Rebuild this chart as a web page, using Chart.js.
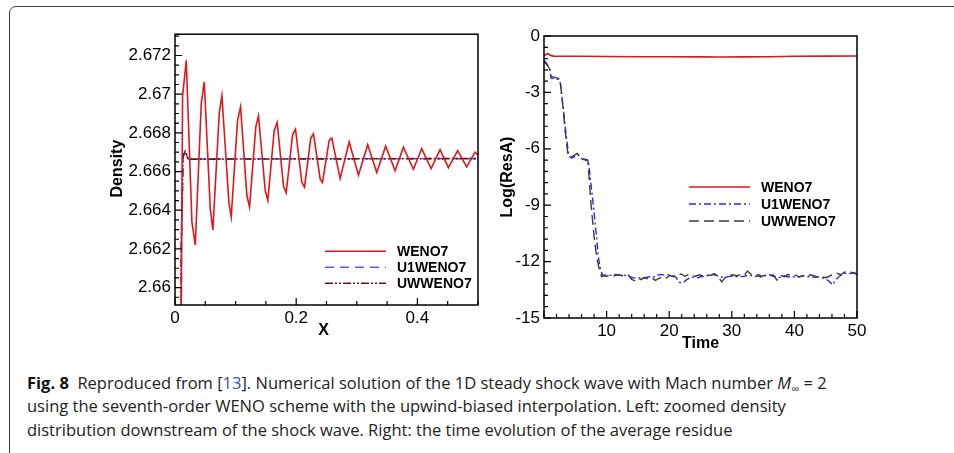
<!DOCTYPE html>
<html lang="en">
<head>
<meta charset="UTF-8" />
<title>Fig. 8</title>
<script src="https://cdn.jsdelivr.net/npm/chart.js"></script>
<style>
  body { margin: 0; width: 954px; height: 453px; background: #fff; position: relative; overflow: hidden; }
  .frame { position: absolute; left: 9px; top: 6px; width: 990px; height: 500px; border: 1.5px solid #3a3a3a; border-radius: 7px; }
  #densChart { position: absolute; left: 100px; top: 20px; }
  #resChart { position: absolute; left: 490px; top: 20px; }
  .caption { position: absolute; left: 27px; top: 371px; font-family: "Open Sans", sans-serif; font-size: 16.5px; line-height: 23.3px; color: #222; white-space: nowrap; }
  .caption b { color: #111; }
  .caption .ref { color: #2f55b5; }
  .caption sub { font-size: 70%; line-height: 0; }
</style>
</head>
<body>
<div class="frame"></div>
<canvas id="densChart" width="390" height="330"></canvas>
<canvas id="resChart" width="390" height="340"></canvas>
<div class="caption">
  <b>Fig. 8</b>&nbsp; Reproduced from [<span class="ref">13</span>]. Numerical solution of the 1D steady shock wave with Mach number <i>M</i><sub>∞</sub> = 2<br>
  using the seventh-order WENO scheme with the upwind-biased interpolation. Left: zoomed density<br>
  distribution downstream of the shock wave. Right: the time evolution of the average residue
</div>
<script>
// ---- left panel: density vs x ----
const seriesNames = ['WENO7', 'U1WENO7', 'UWWENO7'];

const wenoX = [0.006, 0.0095, 0.0125, 0.0186, 0.0279, 0.0335, 0.0433, 0.0483, 0.0582, 0.0625,
  0.0731, 0.0774, 0.0889, 0.0928, 0.1032, 0.1082, 0.1186, 0.123, 0.1334, 0.1378,
  0.1489, 0.1532, 0.1637, 0.1686, 0.1791, 0.1835, 0.194, 0.1989, 0.2093, 0.2137,
  0.2241, 0.2285, 0.2396, 0.2434, 0.2544, 0.2587, 0.2725, 0.2874, 0.3027, 0.318,
  0.3329, 0.3477, 0.3632, 0.3769, 0.3934, 0.4071, 0.4226, 0.4374, 0.4511, 0.4665,
  0.4813, 0.4951, 0.5];
const wenoRho = [1.0, 2.655, 2.6699, 2.67175, 2.6634, 2.6622, 2.6695, 2.67064, 2.66408, 2.66298,
  2.66905, 2.66993, 2.66442, 2.66366, 2.66863, 2.66934, 2.66476, 2.66417, 2.66832, 2.66888,
  2.66502, 2.66451, 2.66812, 2.66853, 2.66524, 2.6649, 2.6679, 2.66819, 2.66544, 2.66519,
  2.66773, 2.66795, 2.66561, 2.66544, 2.66761, 2.66773, 2.66564, 2.66753, 2.66581, 2.66739,
  2.66595, 2.66731, 2.66604, 2.66726, 2.66612, 2.66718, 2.66615, 2.66713, 2.6662, 2.66708,
  2.66624, 2.667, 2.66685];
const u1X = [0.006, 0.0105, 0.0135, 0.0165, 0.0215, 0.5];
const u1Rho = [1.0, 2.662, 2.6667, 2.6671, 2.66665, 2.66667];
const uwX = [0.006, 0.0102, 0.0132, 0.0168, 0.0218, 0.5];
const uwRho = [1.0, 2.662, 2.6668, 2.66705, 2.66664, 2.66667];

const densXTicks = [0, 0.2, 0.4];
const densYTicks = [2.66, 2.662, 2.664, 2.666, 2.668, 2.67, 2.672];

// ---- right panel: log residual vs time ----
const wenoT = [0, 0.3, 0.6, 1.0, 1.5, 3, 6, 10, 15, 20, 25, 28, 32, 36, 40, 45, 50];
const wenoRes = [-1.05, -0.98, -0.93, -1.02, -1.07, -1.08, -1.08, -1.09, -1.1, -1.1, -1.11, -1.12, -1.11, -1.1, -1.08, -1.07, -1.06];

const u1T = [0.05, 0.5, 0.95, 1.15, 1.8, 2.3, 2.6, 3.1, 3.55, 3.95, 4.4, 5.0, 5.4, 6.1, 7.1, 7.4, 7.85, 8.4, 8.65, 9.0, 9.35,
  9.6, 10.2, 10.8, 11.4, 12.0, 12.6, 13.2, 13.8, 14.4, 15.0, 15.6, 16.2, 16.8, 17.4, 18.0, 18.6, 19.2, 19.8, 20.4, 21.0,
  21.6, 22.2, 22.8, 23.4, 24.0, 24.6, 25.2, 25.8, 26.4, 27.0, 27.6, 28.2, 28.8, 29.4, 30.0, 30.6, 31.2, 31.8, 32.4, 33.0,
  33.6, 34.2, 34.8, 35.4, 36.0, 36.6, 37.2, 37.8, 38.4, 39.0, 39.6, 40.2, 40.8, 41.4, 42.0, 42.6, 43.2, 43.8, 44.4, 45.0,
  45.6, 46.1, 46.6, 47.2, 47.8, 48.4, 49.0, 49.6, 50.0];
const u1Res = [-1.3, -1.5, -1.8, -2.25, -2.28, -2.3, -2.5, -3.9, -5.3, -6.35, -6.5, -6.4, -6.3, -6.55, -6.65, -7.6, -8.9, -10.7, -11.7, -12.4, -12.7,
  -12.72, -12.7, -12.74, -12.68, -12.72, -12.7, -12.76, -12.82, -12.88, -12.84, -12.9, -12.86, -12.8, -12.84, -12.74, -12.68, -12.72, -12.7, -12.74, -12.8,
  -13.1, -13.14, -12.96, -12.84, -12.82, -12.86, -12.78, -12.8, -12.72, -12.68, -12.74, -12.8, -12.86, -12.8, -12.78, -12.82, -12.76, -12.8, -12.74, -12.72,
  -12.8, -12.76, -12.84, -12.74, -12.7, -12.78, -12.8, -12.86, -12.76, -12.82, -12.78, -12.84, -12.8, -12.76, -12.82, -12.78, -12.84, -12.8, -12.86, -12.92,
  -13.06, -13.24, -12.96, -12.78, -12.66, -12.6, -12.64, -12.58, -12.7];

const uwT = [0.1, 0.5, 0.9, 1.1, 1.7, 2.3, 2.6, 3.0, 3.4, 3.8, 4.3, 4.8, 5.3, 6.0, 7.0, 7.5, 8.0, 8.4, 8.85, 9.2,
  9.4, 10.0, 10.6, 11.2, 11.8, 12.4, 13.0, 13.5, 14.0, 14.5, 15.0, 15.5, 16.0, 16.6, 17.2, 17.8, 18.3, 18.9, 19.5, 20.1,
  20.7, 21.3, 21.9, 22.5, 23.0, 23.6, 24.2, 24.8, 25.4, 26.0, 26.6, 27.2, 27.8, 28.4, 29.0, 29.6, 30.2, 30.8, 31.4, 32.0,
  32.5, 33.0, 33.6, 34.2, 34.8, 35.4, 36.0, 36.6, 37.2, 37.8, 38.4, 39.0, 39.6, 40.2, 40.8, 41.4, 42.0, 42.6, 43.2, 43.8,
  44.4, 45.0, 45.6, 46.2, 46.8, 47.4, 48.0, 48.6, 49.2, 50.0];
const uwRes = [-1.4, -1.55, -1.75, -2.15, -2.2, -2.25, -2.4, -3.7, -5.1, -6.25, -6.45, -6.35, -6.25, -6.5, -6.6, -8.9, -10.67, -11.74, -12.45, -12.8,
  -12.75, -12.78, -12.72, -12.76, -12.7, -12.74, -12.8, -12.72, -12.95, -13.02, -12.88, -12.96, -12.84, -12.92, -12.86, -13.0, -12.9, -12.82, -12.88, -12.74,
  -12.8, -12.72, -12.66, -12.78, -12.7, -12.74, -12.78, -12.7, -12.76, -12.68, -12.74, -12.64, -12.8, -13.08, -12.82, -12.74, -12.7, -12.76, -12.68, -12.72,
  -12.5, -12.66, -12.74, -12.7, -12.78, -12.72, -12.76, -12.7, -12.98, -12.74, -12.8, -12.68, -12.76, -12.72, -12.82, -12.74, -12.78, -12.7, -12.76, -12.84,
  -12.8, -12.86, -12.78, -12.66, -12.62, -12.7, -12.56, -12.52, -12.58, -12.68];

const resXTicks = [10, 20, 30, 40, 50];
const resYTicks = [0, -3, -6, -9, -12, -15];

function pts(xs, ys) {
  return xs.map((v, i) => ({ x: v, y: ys[i] }));
}

const tickFont = { family: '"Liberation Sans", Arial, sans-serif', size: 17 };

// frame, inward tick marks, axis titles and legend drawn on the canvas
function decorPlugin(cfg) {
  return {
    id: 'decor',
    afterDraw(chart) {
      const { ctx, chartArea: a, scales } = chart;
      ctx.save();
      ctx.strokeStyle = '#000';
      ctx.lineWidth = 1.5;
      ctx.strokeRect(a.left, a.top, a.right - a.left, a.bottom - a.top);

      ctx.lineWidth = 1.2;
      ctx.beginPath();
      const xs = scales.x, ys = scales.y;
      for (let k = Math.ceil(xs.min / cfg.xMinor - 1e-6); k * cfg.xMinor <= xs.max + 1e-9; k++) {
        const v = k * cfg.xMinor;
        const major = Math.abs(v / cfg.xMajor - Math.round(v / cfg.xMajor)) < 1e-6;
        const px = xs.getPixelForValue(v);
        ctx.moveTo(px, a.bottom);
        ctx.lineTo(px, a.bottom - (major ? 7 : 4));
      }
      for (let k = Math.ceil(ys.min / cfg.yMinor - 1e-6); k * cfg.yMinor <= ys.max + 1e-9; k++) {
        const v = k * cfg.yMinor;
        const major = Math.abs(v / cfg.yMajor - Math.round(v / cfg.yMajor)) < 1e-6;
        const py = ys.getPixelForValue(v);
        ctx.moveTo(a.left, py);
        ctx.lineTo(a.left + (major ? 7 : 4), py);
      }
      ctx.stroke();

      // axis titles
      ctx.fillStyle = '#000';
      ctx.font = 'bold 16px "Liberation Sans", Arial, sans-serif';
      ctx.textAlign = 'center';
      ctx.textBaseline = 'middle';
      ctx.fillText(cfg.xTitle, (a.left + a.right) / 2 + cfg.xTitleDx, a.bottom + cfg.xTitleDy);
      ctx.save();
      ctx.translate(a.left + cfg.yTitleDx, (a.top + a.bottom) / 2 + cfg.yTitleDy);
      ctx.rotate(-Math.PI / 2);
      ctx.fillText(cfg.yTitle, 0, 0);
      ctx.restore();

      // legend
      ctx.font = 'bold 14px "Liberation Sans", Arial, sans-serif';
      ctx.textAlign = 'left';
      const items = chart.data.datasets;
      items.forEach((ds, i) => {
        const y = a.top + cfg.legTop + i * cfg.legStep;
        const x0 = a.left + cfg.legLeft;
        ctx.strokeStyle = ds.borderColor;
        ctx.lineWidth = ds.borderWidth;
        ctx.setLineDash(ds.borderDash || []);
        ctx.beginPath();
        ctx.moveTo(x0, y);
        ctx.lineTo(x0 + 61, y);
        ctx.stroke();
        ctx.setLineDash([]);
        ctx.fillStyle = '#000';
        ctx.fillText(ds.label, x0 + 72, y + 1);
      });
      ctx.restore();
    }
  };
}

function baseScale(min, max, tickVals, width, height, pos) {
  return {
    type: 'linear',
    position: pos,
    min: min,
    max: max,
    grid: { display: false, drawTicks: false },
    border: { display: false },
    ticks: {
      color: '#000',
      font: tickFont,
      padding: pos === 'left' ? 4 : 3,
      maxRotation: 0,
      autoSkip: false,
      callback: v => String(Number(v.toFixed(4)))
    },
    afterBuildTicks: s => { s.ticks = tickVals.map(v => ({ value: v })); },
    afterFit: s => { if (width) s.width = width; if (height) s.height = height; }
  };
}

new Chart(document.getElementById('densChart'), {
  type: 'scatter',
  data: {
    datasets: [
      { label: seriesNames[0], data: pts(wenoX, wenoRho), borderColor: '#e0161b', borderWidth: 1.6, order: 0 },
      { label: seriesNames[1], data: pts(u1X, u1Rho), borderColor: '#5a5aff', borderWidth: 1.6, borderDash: [9, 6], order: 2 },
      { label: seriesNames[2], data: pts(uwX, uwRho), borderColor: '#6e1010', borderWidth: 1.6, borderDash: [8, 2, 2, 2, 2, 2], order: 1 }
    ]
  },
  options: {
    responsive: false,
    animation: false,
    devicePixelRatio: 1,
    showLine: true,
    elements: { point: { radius: 0 }, line: { tension: 0 } },
    layout: { padding: { top: 9, right: 12, left: 0, bottom: 0 } },
    scales: {
      x: baseScale(0, 0.5, densXTicks, null, 45, 'bottom'),
      y: baseScale(2.6591, 2.6731, densYTicks, 75, null, 'left')
    },
    plugins: { legend: { display: false }, tooltip: { enabled: false } }
  },
  plugins: [decorPlugin({
    xMinor: 0.05, xMajor: 0.2, yMinor: 0.0005, yMajor: 0.002,
    xTitle: 'X', yTitle: 'Density', xTitleDx: -3, xTitleDy: 26, yTitleDx: -57, yTitleDy: -1,
    legLeft: 150, legTop: 217, legStep: 16
  })]
});

new Chart(document.getElementById('resChart'), {
  type: 'scatter',
  data: {
    datasets: [
      { label: seriesNames[0], data: pts(wenoT, wenoRes), borderColor: '#e0161b', borderWidth: 1.6, order: 0 },
      { label: seriesNames[1], data: pts(u1T, u1Res), borderColor: '#2626ff', borderWidth: 1.4, borderDash: [7, 3, 2, 3], order: 2 },
      { label: seriesNames[2], data: pts(uwT, uwRes), borderColor: '#3c3c3c', borderWidth: 1.4, borderDash: [10, 5], order: 1 }
    ]
  },
  options: {
    responsive: false,
    animation: false,
    devicePixelRatio: 1,
    showLine: true,
    elements: { point: { radius: 0 }, line: { tension: 0 } },
    layout: { padding: { top: 16, right: 23, left: 0, bottom: 0 } },
    scales: {
      x: baseScale(0, 50, resXTicks, null, 42, 'bottom'),
      y: baseScale(-15, 0, resYTicks, 54, null, 'left')
    },
    plugins: { legend: { display: false }, tooltip: { enabled: false } }
  },
  plugins: [decorPlugin({
    xMinor: 2, xMajor: 10, yMinor: 0.6, yMajor: 3,
    xTitle: 'Time', yTitle: 'Log(ResA)', xTitleDx: 0, xTitleDy: 26, yTitleDx: -36, yTitleDy: 0,
    legLeft: 145, legTop: 151, legStep: 17
  })]
});
</script>
</body>
</html>
